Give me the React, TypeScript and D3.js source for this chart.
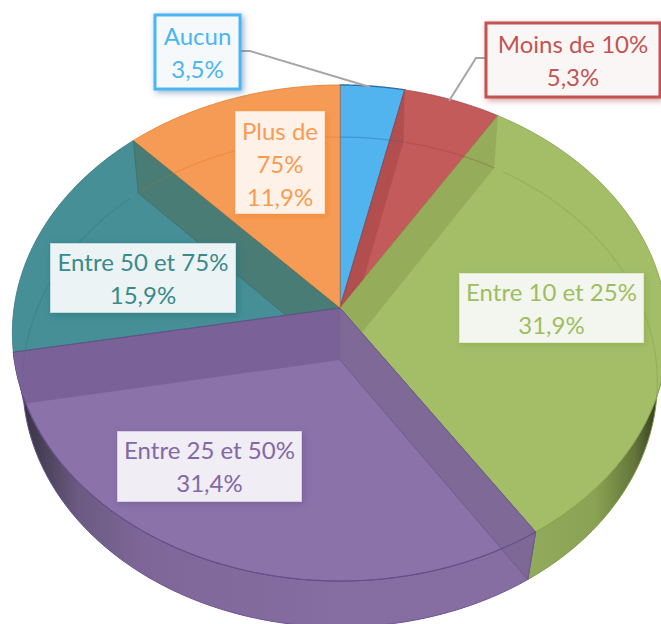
import React from 'react';
import * as d3 from 'd3';

const categories = ['Aucun', 'Moins de 10%', 'Entre 10 et 25%', 'Entre 25 et 50%', 'Entre 50 et 75%', 'Plus de 75%'];
const shares = [3.5, 5.3, 31.9, 31.4, 15.9, 11.9];
const shareLabels = ['3,5%', '5,3%', '31,9%', '31,4%', '15,9%', '11,9%'];
const faceColors = ['#52B4EE', '#C25B5A', '#A3BE67', '#8B72A9', '#468F96', '#F69B56'];
const edgeColors = ['#2F6FA8', '#A84542', '#86A24B', '#67508A', '#357A80', '#E07F2C'];
const textColors = ['#4CB5F2', '#C25552', '#9FBD60', '#8468A6', '#3A8A8C', '#F89C52'];
const shadowColors = ['#3A6EA8', '#B04A48', '#7F9A48', '#6B5590', '#1F6F73', '#EE7F22'];
const boxFills = ['#F6F9FC', '#FBF6F6', '#F3F6EE', '#F0EDF4', '#EBF3F5', '#FEF1E8'];
const labelLines = [['Aucun'], ['Moins de 10%'], ['Entre 10 et 25%'], ['Entre 25 et 50%'], ['Entre 50 et 75%'], ['Plus de', '75%']];
const boxes = [
  { x: 155, y: 15, w: 85, h: 74, border: true, first: 45 },
  { x: 486, y: 23, w: 174, h: 74, border: true, first: 53 },
  { x: 459, y: 273, w: 185, h: 70, border: false, first: 301 },
  { x: 117, y: 431, w: 185, h: 71, border: false, first: 459 },
  { x: 50, y: 243, w: 186, h: 70, border: false, first: 271 },
  { x: 235, y: 111, w: 90, h: 103, border: false, first: 140 },
];

const rad = Math.PI / 180;
const pie = d3.pie<number>().sort(null).startAngle(0).endAngle(2 * Math.PI);
const arcs = pie(shares);

type P = [number, number];
const topRim = (t: number): P => {
  const w = 1 + 0.1008 * Math.cos(t);
  return [340 + (326 * Math.sin(t)) / w, 308 - (245.5 * Math.cos(t)) / w];
};
const baseRim = (t: number): P => {
  const w = 1 + 0.09 * Math.cos(t);
  return [340 + (316 * Math.sin(t)) / w, 360 - (243 * Math.cos(t)) / w];
};
const topHub: P = [340, 308];
const baseHub: P = [340, 360];
const sweep = (f: (t: number) => P, a: number, b: number): P[] =>
  d3.range(0, 61).map((i) => f(a + ((b - a) * i) / 60));
const line = d3.line<P>();
const closed = (pts: P[]) => line(pts) + 'Z';
const band = (a: number, b: number) => closed([...sweep(topRim, a, b), ...sweep(baseRim, b, a)]);

export default function App() {
  const green = arcs[2];
  const purple = arcs[3];
  const teal = arcs[4];
  const red = arcs[1];
  const redStart = red.startAngle;
  const greenStart = green.startAngle;
  return (
    <svg
      width={661}
      height={624}
      viewBox="0 0 661 624"
      style={{ position: 'absolute', left: 0, top: 0, background: '#fff', fontFamily: 'Lato, Carlito, sans-serif' }}
    >
      <defs>
        <linearGradient id="wallPurple" gradientUnits="userSpaceOnUse" x1={13} x2={340} y1={0} y2={0}>
          <stop offset="0" stopColor="#2f2d38" />
          <stop offset="0.07" stopColor="#423c50" />
          <stop offset="0.2" stopColor="#6c5a82" />
          <stop offset="0.4" stopColor="#7e6798" />
          <stop offset="1" stopColor="#866da2" />
        </linearGradient>
        <linearGradient id="wallGreen" gradientUnits="userSpaceOnUse" x1={530} x2={661} y1={0} y2={0}>
          <stop offset="0" stopColor="#92AA5C" />
          <stop offset="0.5" stopColor="#8AA253" />
          <stop offset="0.8" stopColor="#637539" />
          <stop offset="1" stopColor="#2c3320" />
        </linearGradient>
        {shadowColors.map((c, i) => (
          <filter key={c} id={'shadow' + i} x="-25%" y="-25%" width="150%" height="150%">
            <feDropShadow dx="2" dy="2" stdDeviation="3" floodColor={c} floodOpacity={i === 2 ? 0.4 : 0.55} />
          </filter>
        ))}
        <clipPath id="clipRed">
          <path d={closed([topHub, ...sweep(topRim, red.startAngle, red.endAngle)])} />
        </clipPath>
        <clipPath id="clipGreen">
          <path d={closed([topHub, ...sweep(topRim, green.startAngle, green.endAngle)])} />
        </clipPath>
        <clipPath id="clipTeal">
          <path d={closed([topHub, ...sweep(topRim, teal.startAngle, teal.endAngle)])} />
        </clipPath>
        <clipPath id="clipPurple">
          <path d={closed([topHub, ...sweep(topRim, purple.startAngle, purple.endAngle)])} />
        </clipPath>
      </defs>

      {/* outer wall */}
      <path d={band(85 * rad, green.endAngle)} fill="url(#wallGreen)" stroke="#7F9A48" strokeWidth={1} />
      <path d={band(purple.startAngle, purple.endAngle)} fill="url(#wallPurple)" stroke="#6B5590" strokeWidth={1} />

      {/* top faces */}
      {arcs.map((a, i) => (
        <path
          key={categories[i]}
          d={closed([topHub, ...sweep(topRim, a.startAngle, a.endAngle)])}
          fill={faceColors[i]}
          stroke={edgeColors[i]}
          strokeWidth={i === 0 ? 1.4 : 0.8}
        />
      ))}

      {/* base rim seen through the far part of the faces */}
      {[0, 1, 2, 4, 5].map((i) => {
        const a = arcs[i];
        const s = i === 2 ? a.startAngle + 2 * rad : a.startAngle;
        const e = i === 2 ? 100 * rad : i === 4 ? a.endAngle - 2 * rad : a.endAngle;
        const st = i === 4 ? 266 * rad : s;
        return (
          <path
            key={'rim' + i}
            d={line(sweep(baseRim, st, e)) ?? ''}
            fill="none"
            stroke={edgeColors[i]}
            strokeOpacity={0.45}
            strokeWidth={1.2}
          />
        );
      })}

      {/* inner walls seen through the faces */}
      <path
        d={closed([topHub, topRim(redStart), baseRim(redStart), baseHub])}
        fill="#9E3F3D"
        fillOpacity={0.42}
        clipPath="url(#clipRed)"
      />
      <path
        d={closed([topHub, topRim(greenStart), baseRim(greenStart), baseHub])}
        fill="#7E8F45"
        fillOpacity={0.36}
        clipPath="url(#clipGreen)"
      />
      <path
        d={closed([topHub, topRim(teal.endAngle), baseRim(teal.endAngle), baseHub])}
        fill="#4C7060"
        fillOpacity={0.6}
        stroke="#3E6F66"
        strokeWidth={0.8}
        clipPath="url(#clipTeal)"
      />
      <path
        d={closed([topHub, topRim(purple.endAngle), baseRim(purple.endAngle), baseHub])}
        fill="#70598F"
        fillOpacity={0.62}
        clipPath="url(#clipPurple)"
      />
      <path
        d={closed([topHub, topRim(purple.startAngle), baseRim(purple.startAngle), baseHub])}
        fill="#7D6793"
        fillOpacity={0.85}
        stroke="#6B5590"
        strokeWidth={0.8}
      />
      <line x1={340} y1={308} x2={340} y2={360} stroke="#7E6A9C" strokeWidth={1} />
      <path
        d={line(sweep(topRim, purple.startAngle, purple.endAngle - 10 * rad)) ?? ''}
        fill="none"
        stroke="#66508A"
        strokeWidth={1.1}
      />
      <line x1={topHub[0]} y1={topHub[1]} x2={topRim(purple.endAngle)[0]} y2={topRim(purple.endAngle)[1]} stroke="#65508A" strokeWidth={1} />

      {/* leader lines */}
      <polyline points="240,51 250,51 370,87" fill="none" stroke="#A6A6A6" strokeWidth={2} />
      <polyline points="486,58 476,58 449,101" fill="none" stroke="#A6A6A6" strokeWidth={2} />

      {/* labels */}
      {boxes.map((b, i) => {
        const lines = [...labelLines[i], shareLabels[i]];
        return (
          <g key={'label' + i}>
            <rect
              x={b.x}
              y={b.y}
              width={b.w}
              height={b.h}
              fill={boxFills[i]}
              stroke={textColors[i]}
              strokeOpacity={b.border ? 1 : 0.3}
              strokeWidth={b.border ? 3 : 1.5}
              filter={`url(#shadow${i})`}
            />
            {lines.map((t, j) => (
              <text
                key={t}
                x={b.x + b.w / 2}
                y={b.first + j * 33}
                textAnchor="middle"
                fontSize={24}
                fill={textColors[i]}
              >
                {t}
              </text>
            ))}
          </g>
        );
      })}
    </svg>
  );
}
